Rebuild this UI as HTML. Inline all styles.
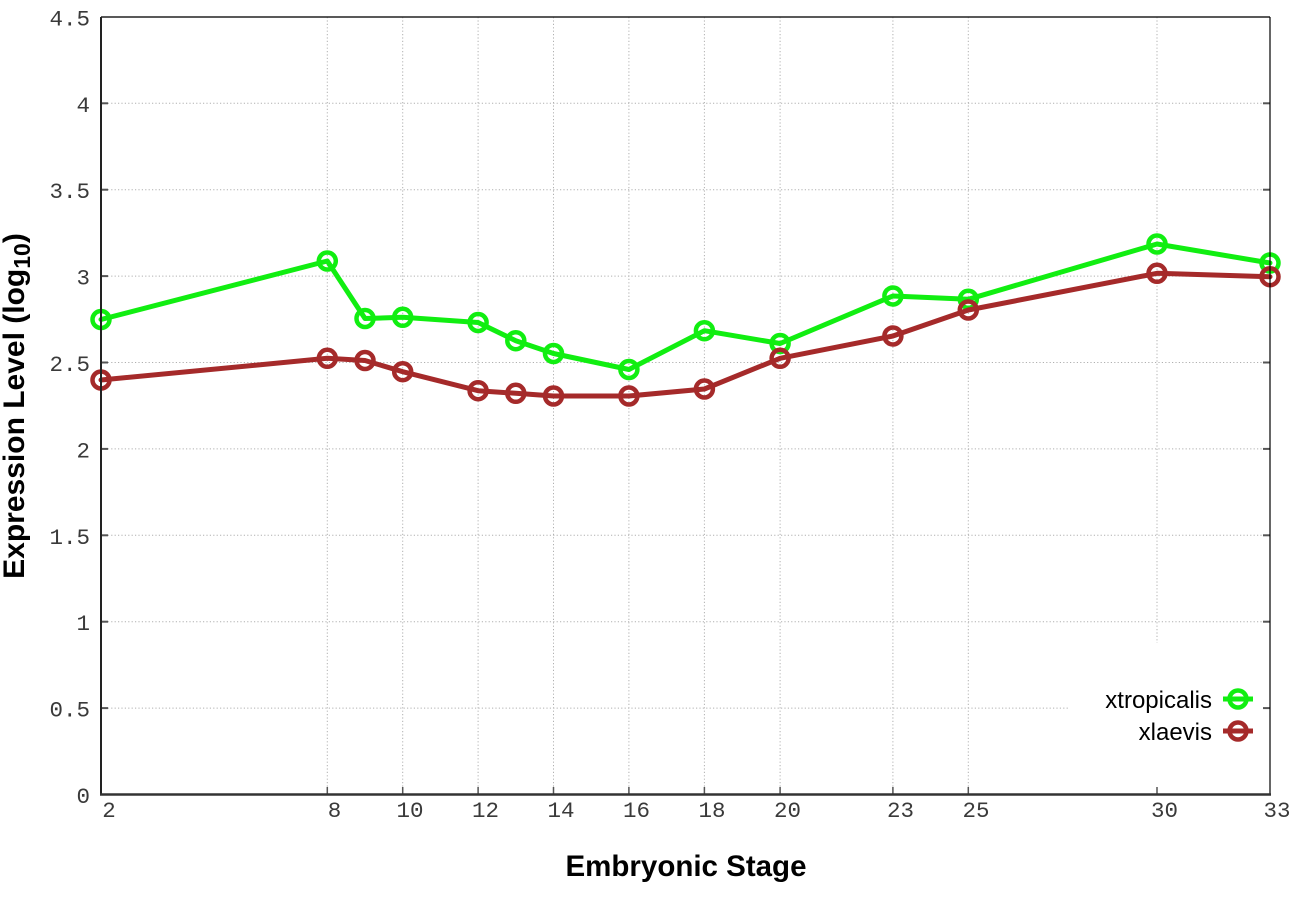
<!DOCTYPE html>
<html>
<head>
<meta charset="utf-8">
<style>
  html,body{margin:0;padding:0;background:#fff;}
  svg{display:block;}
</style>
</head>
<body>
<svg width="1296" height="907" viewBox="0 0 1296 907" xmlns="http://www.w3.org/2000/svg">
  <rect x="0" y="0" width="1296" height="907" fill="#fff"/>

  <!-- horizontal gridlines -->
  <g stroke="#b0b0b0" stroke-width="1" stroke-dasharray="1.2,2.2" fill="none">
    <line x1="101" y1="708.1" x2="1270" y2="708.1"/>
    <line x1="101" y1="621.7" x2="1270" y2="621.7"/>
    <line x1="101" y1="535.3" x2="1270" y2="535.3"/>
    <line x1="101" y1="448.9" x2="1270" y2="448.9"/>
    <line x1="101" y1="362.5" x2="1270" y2="362.5"/>
    <line x1="101" y1="276.1" x2="1270" y2="276.1"/>
    <line x1="101" y1="189.7" x2="1270" y2="189.7"/>
    <line x1="101" y1="103.3" x2="1270" y2="103.3"/>
  </g>
  <!-- vertical gridlines -->
  <g stroke="#b0b0b0" stroke-width="1" stroke-dasharray="1.2,2.2" fill="none">
    <line x1="327.3" y1="17" x2="327.3" y2="794"/>
    <line x1="402.7" y1="17" x2="402.7" y2="794"/>
    <line x1="478.1" y1="17" x2="478.1" y2="794"/>
    <line x1="553.5" y1="17" x2="553.5" y2="794"/>
    <line x1="628.9" y1="17" x2="628.9" y2="794"/>
    <line x1="704.4" y1="17" x2="704.4" y2="794"/>
    <line x1="780.1" y1="17" x2="780.1" y2="794"/>
    <line x1="892.9" y1="17" x2="892.9" y2="794"/>
    <line x1="968.3" y1="17" x2="968.3" y2="794"/>
    <line x1="1157" y1="17" x2="1157" y2="794"/>
  </g>

  <!-- legend box (white) -->
  <rect x="1070" y="643" width="199" height="150" fill="#fff"/>

  <!-- ticks -->
  <g stroke="#555" stroke-width="2">
    <line x1="101" y1="708.1" x2="108" y2="708.1"/>
    <line x1="101" y1="621.7" x2="108" y2="621.7"/>
    <line x1="101" y1="535.3" x2="108" y2="535.3"/>
    <line x1="101" y1="448.9" x2="108" y2="448.9"/>
    <line x1="101" y1="362.5" x2="108" y2="362.5"/>
    <line x1="101" y1="276.1" x2="108" y2="276.1"/>
    <line x1="101" y1="189.7" x2="108" y2="189.7"/>
    <line x1="101" y1="103.3" x2="108" y2="103.3"/>
    <line x1="1263" y1="708.1" x2="1270" y2="708.1"/>
    <line x1="1263" y1="621.7" x2="1270" y2="621.7"/>
    <line x1="1263" y1="535.3" x2="1270" y2="535.3"/>
    <line x1="1263" y1="448.9" x2="1270" y2="448.9"/>
    <line x1="1263" y1="362.5" x2="1270" y2="362.5"/>
    <line x1="1263" y1="276.1" x2="1270" y2="276.1"/>
    <line x1="1263" y1="189.7" x2="1270" y2="189.7"/>
    <line x1="1263" y1="103.3" x2="1270" y2="103.3"/>
  </g>
  <g stroke="#555" stroke-width="1.5">
    <line x1="327.3" y1="787" x2="327.3" y2="794"/>
    <line x1="402.7" y1="787" x2="402.7" y2="794"/>
    <line x1="478.1" y1="787" x2="478.1" y2="794"/>
    <line x1="553.5" y1="787" x2="553.5" y2="794"/>
    <line x1="628.9" y1="787" x2="628.9" y2="794"/>
    <line x1="704.4" y1="787" x2="704.4" y2="794"/>
    <line x1="780.1" y1="787" x2="780.1" y2="794"/>
    <line x1="892.9" y1="787" x2="892.9" y2="794"/>
    <line x1="968.3" y1="787" x2="968.3" y2="794"/>
    <line x1="1157" y1="787" x2="1157" y2="794"/>
  </g>

  <!-- series: xtropicalis (green) -->
  <g stroke="#11ee11" stroke-width="5" fill="none" stroke-linejoin="round" stroke-linecap="round">
    <polyline points="101,319.5 327.3,261 365,318.5 402.7,317.3 478.1,322.5 515.8,340.7 553.5,353.5 628.9,369.5 704.4,330.7 780.1,343.5 892.9,296 968.3,299.3 1157,244 1270,263"/>
  </g>
  <g stroke="#11ee11" stroke-width="4.5" fill="none">
    <circle cx="101" cy="319.5" r="8.5"/>
    <circle cx="327.3" cy="261" r="8.5"/>
    <circle cx="365" cy="318.5" r="8.5"/>
    <circle cx="402.7" cy="317.3" r="8.5"/>
    <circle cx="478.1" cy="322.5" r="8.5"/>
    <circle cx="515.8" cy="340.7" r="8.5"/>
    <circle cx="553.5" cy="353.5" r="8.5"/>
    <circle cx="628.9" cy="369.5" r="8.5"/>
    <circle cx="704.4" cy="330.7" r="8.5"/>
    <circle cx="780.1" cy="343.5" r="8.5"/>
    <circle cx="892.9" cy="296" r="8.5"/>
    <circle cx="968.3" cy="299.3" r="8.5"/>
    <circle cx="1157" cy="244" r="8.5"/>
    <circle cx="1270" cy="263" r="8.5"/>
  </g>

  <!-- series: xlaevis (brown) -->
  <g stroke="#a52a2a" stroke-width="5" fill="none" stroke-linejoin="round" stroke-linecap="round">
    <polyline points="101,380 327.3,358.3 365,360.5 402.7,371.7 478.1,390.7 515.8,393.3 553.5,396 628.9,396 704.4,389 780.1,358.3 892.9,336 968.3,310 1157,273.3 1270,276.7"/>
  </g>
  <g stroke="#a52a2a" stroke-width="4.5" fill="none">
    <circle cx="101" cy="380" r="8.5"/>
    <circle cx="327.3" cy="358.3" r="8.5"/>
    <circle cx="365" cy="360.5" r="8.5"/>
    <circle cx="402.7" cy="371.7" r="8.5"/>
    <circle cx="478.1" cy="390.7" r="8.5"/>
    <circle cx="515.8" cy="393.3" r="8.5"/>
    <circle cx="553.5" cy="396" r="8.5"/>
    <circle cx="628.9" cy="396" r="8.5"/>
    <circle cx="704.4" cy="389" r="8.5"/>
    <circle cx="780.1" cy="358.3" r="8.5"/>
    <circle cx="892.9" cy="336" r="8.5"/>
    <circle cx="968.3" cy="310" r="8.5"/>
    <circle cx="1157" cy="273.3" r="8.5"/>
    <circle cx="1270" cy="276.7" r="8.5"/>
  </g>

  <!-- borders -->
  <line x1="101" y1="17" x2="1270" y2="17" stroke="#222" stroke-width="1.5"/>
  <line x1="101" y1="17" x2="101" y2="795" stroke="#222" stroke-width="2"/>
  <line x1="1270" y1="17" x2="1270" y2="795" stroke="#000" stroke-width="1.2"/>
  <line x1="100" y1="794.5" x2="1271" y2="794.5" stroke="#333" stroke-width="2.6"/>

  <!-- y tick labels -->
  <g font-family="'Liberation Mono', monospace" font-size="22.5" fill="#3a3a3a" text-anchor="end">
    <text x="90" y="803">0</text>
    <text x="90" y="716.6">0.5</text>
    <text x="90" y="630.2">1</text>
    <text x="90" y="543.8">1.5</text>
    <text x="90" y="457.4">2</text>
    <text x="90" y="371">2.5</text>
    <text x="90" y="284.6">3</text>
    <text x="90" y="198.2">3.5</text>
    <text x="90" y="111.8">4</text>
    <text x="90" y="25.4">4.5</text>
  </g>

  <!-- x tick labels -->
  <g font-family="'Liberation Mono', monospace" font-size="22.5" fill="#3a3a3a" text-anchor="middle">
    <text x="109" y="817">2</text>
    <text x="334.5" y="817">8</text>
    <text x="410" y="817">10</text>
    <text x="485.5" y="817">12</text>
    <text x="561" y="817">14</text>
    <text x="636.5" y="817">16</text>
    <text x="712" y="817">18</text>
    <text x="787.5" y="817">20</text>
    <text x="900.5" y="817">23</text>
    <text x="976" y="817">25</text>
    <text x="1164.5" y="817">30</text>
    <text x="1277" y="817">33</text>
  </g>

  <!-- axis labels -->
  <text x="686" y="876" font-family="'Liberation Sans', Arial, sans-serif" font-size="29.5" font-weight="bold" fill="#000" text-anchor="middle">Embryonic Stage</text>
  <text transform="translate(24,406) rotate(-90)" font-family="'Liberation Sans', Arial, sans-serif" font-size="30" font-weight="bold" fill="#000" text-anchor="middle">Expression Level (log<tspan font-size="23" dy="6">10</tspan><tspan dy="-6">)</tspan></text>

  <!-- legend -->
  <g font-family="'Liberation Sans', Arial, sans-serif" font-size="24" fill="#000" text-anchor="end">
    <text x="1212" y="708">xtropicalis</text>
    <text x="1212" y="740">xlaevis</text>
  </g>
  <line x1="1223" y1="699" x2="1253" y2="699" stroke="#11ee11" stroke-width="5"/>
  <circle cx="1238" cy="699" r="8.5" stroke="#11ee11" stroke-width="4.5" fill="none"/>
  <line x1="1223" y1="731" x2="1253" y2="731" stroke="#a52a2a" stroke-width="5"/>
  <circle cx="1238" cy="731" r="8.5" stroke="#a52a2a" stroke-width="4.5" fill="none"/>
</svg>
</body>
</html>
